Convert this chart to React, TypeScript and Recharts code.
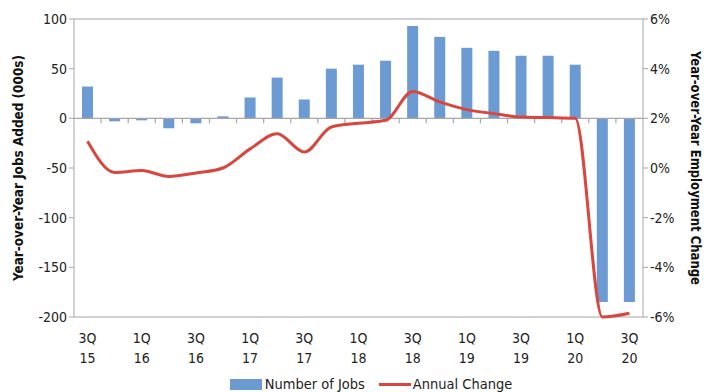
import React from "react";
import {
  ComposedChart,
  Bar,
  Line,
  XAxis,
  YAxis,
  CartesianGrid,
  Legend,
  ReferenceLine,
} from "recharts";

const quarters = [
  "3Q 15", "4Q 15", "1Q 16", "2Q 16", "3Q 16", "4Q 16", "1Q 17", "2Q 17",
  "3Q 17", "4Q 17", "1Q 18", "2Q 18", "3Q 18", "4Q 18", "1Q 19", "2Q 19",
  "3Q 19", "4Q 19", "1Q 20", "2Q 20", "3Q 20",
];

// thousands of jobs added, year over year
const jobsAdded = [
  32, -3, -2, -10, -5, 2, 21, 41, 19, 50, 54, 58, 93, 82, 71, 68, 63, 63, 54,
  -185, -185,
];

// % change in employment, year over year
const annualChange = [
  1.08, -0.18, -0.1, -0.34, -0.2, 0.0, 0.77, 1.38, 0.64, 1.65, 1.8, 1.92,
  3.08, 2.66, 2.35, 2.19, 2.05, 2.03, 2.0, -6.0, -5.85,
];

const leftTicks = [-200, -150, -100, -50, 0, 50, 100];
const rightTicks = [-6, -4, -2, 0, 2, 4, 6];

const data = quarters.map((q, i) => ({
  quarter: q,
  jobs: jobsAdded[i],
  change: annualChange[i],
}));

const FONT = "'Liberation Sans Narrow', 'Arial Narrow', 'DejaVu Sans Condensed', sans-serif";
const GRID = "#a6a6a6";
const BLUE = "#6b9bd2";
const RED = "#d9463e";

function QuarterTick({ x, y, payload }: any) {
  const [q, yr] = String(payload.value).split(" ");
  return (
    <text x={x} y={y} textAnchor="middle" fontFamily={FONT} fontSize={14} fill="#222">
      <tspan x={x} dy={18}>{q}</tspan>
      <tspan x={x} dy={20}>{yr}</tspan>
    </text>
  );
}

// zero line with small ticks hanging between the categories, like Excel's axis
function ZeroAxis(props: any) {
  const { x1, y1, x2 } = props;
  const step = (x2 - x1) / quarters.length;
  const marks = [];
  for (let i = 1; i < quarters.length; i++) {
    const x = x1 + step * i;
    marks.push(<line key={i} x1={x} x2={x} y1={y1} y2={y1 + 5} stroke={GRID} strokeWidth={1.2} />);
  }
  return (
    <g>
      <line x1={x1} x2={x2} y1={y1} y2={y1} stroke={GRID} strokeWidth={1.2} />
      {marks}
    </g>
  );
}

// axis titles squeezed to the length they have in the original
function AxisTitle({ viewBox, value, side }: any) {
  const cy = viewBox.y + viewBox.height / 2;
  const cx = side === "left" ? viewBox.x + 18 : viewBox.x + 53;
  const angle = side === "left" ? -90 : 90;
  return (
    <text
      x={cx}
      y={cy}
      transform={`rotate(${angle}, ${cx}, ${cy})`}
      textAnchor="middle"
      dominantBaseline="central"
      fontFamily={FONT}
      fontWeight={700}
      fontSize={14}
      fill="#111"
      textLength={side === "left" ? 226 : 234}
      lengthAdjust="spacingAndGlyphs"
    >
      {value}
    </text>
  );
}

function LegendBox() {
  return (
    <div
      style={{
        display: "flex",
        justifyContent: "center",
        alignItems: "center",
        fontFamily: FONT,
        fontSize: 14.5,
        color: "#222",
        height: 16,
        marginLeft: 38,
        marginTop: 3,
      }}
    >
      <span style={{ display: "inline-block", width: 32, height: 11, background: BLUE, marginRight: 3 }} />
      <span>Number of Jobs</span>
      <span style={{ display: "inline-block", width: 32, height: 3, background: RED, margin: "0 2px 0 14px" }} />
      <span>Annual Change</span>
    </div>
  );
}

export default function App() {
  return (
    <div style={{ position: "absolute", left: 0, top: 0, background: "#fff" }}>
      <ComposedChart
        width={704}
        height={392}
        data={data}
        margin={{ top: 19, right: 0, bottom: 0, left: 0 }}
        barCategoryGap={0}
      >
        <CartesianGrid vertical={false} stroke={GRID} strokeWidth={1.2} />
        <XAxis
          dataKey="quarter"
          interval={1}
          axisLine={false}
          tickLine={false}
          tick={<QuarterTick />}
          height={56}
        />
        <YAxis
          yAxisId="left"
          domain={[-200, 100]}
          ticks={leftTicks}
          width={74}
          stroke={GRID}
          tickSize={5}
          tick={{ fill: "#222", fontSize: 14, fontFamily: FONT }}
          label={<AxisTitle value="Year-over-Year Jobs Added (000s)" side="left" />}
        />
        <YAxis
          yAxisId="right"
          orientation="right"
          domain={[-6, 6]}
          ticks={rightTicks}
          width={61}
          stroke={GRID}
          tickSize={5}
          tickFormatter={(v: number) => `${v}%`}
          tick={{ fill: "#222", fontSize: 14, fontFamily: FONT }}
          label={<AxisTitle value="Year-over-Year Employment Change" side="right" />}
        />
        <ReferenceLine yAxisId="left" y={0} shape={<ZeroAxis />} />
        <Bar yAxisId="left" dataKey="jobs" name="Number of Jobs" fill={BLUE} barSize={11} isAnimationActive={false} />
        <Line
          yAxisId="right"
          type="monotone"
          dataKey="change"
          name="Annual Change"
          stroke={RED}
          strokeWidth={3}
          dot={false}
          isAnimationActive={false}
        />
        <Legend verticalAlign="bottom" content={<LegendBox />} />
      </ComposedChart>
    </div>
  );
}
